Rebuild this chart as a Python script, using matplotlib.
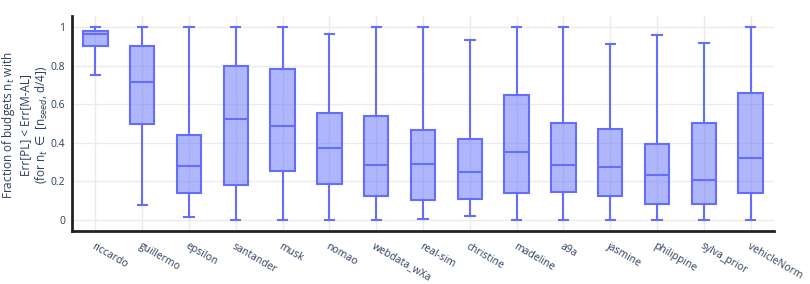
import matplotlib
matplotlib.use("Agg")
import matplotlib.pyplot as plt

datasets = ["riccardo", "guillermo", "epsilon", "santander", "musk", "nomao",
            "webdata_wXa", "real-sim", "christine", "madeline", "a9a", "jasmine",
            "philippine", "sylva_prior", "vehicleNorm"]
whisker_low = [0.75, 0.08, 0.014, 0.0, 0.0, 0.0, 0.0, 0.007, 0.021, 0.0, 0.0, 0.0, 0.0, 0.0, 0.0]
q1 = [0.90, 0.50, 0.141, 0.181, 0.256, 0.187, 0.126, 0.105, 0.107, 0.138, 0.143, 0.123, 0.083, 0.085, 0.138]
median = [0.965, 0.717, 0.281, 0.523, 0.489, 0.371, 0.287, 0.290, 0.249, 0.354, 0.287, 0.275, 0.231, 0.209, 0.320]
q3 = [0.98, 0.90, 0.439, 0.80, 0.784, 0.554, 0.537, 0.465, 0.420, 0.646, 0.501, 0.472, 0.392, 0.501, 0.660]
whisker_high = [1.0, 1.0, 1.0, 1.0, 1.0, 0.965, 1.0, 1.0, 0.934, 1.0, 1.0, 0.912, 0.960, 0.919, 1.0]
yticks = [0, 0.2, 0.4, 0.6, 0.8, 1]
ytick_labels = ["0", "0.2", "0.4", "0.6", "0.8", "1"]

plt.rcParams['font.family'] = ['Open Sans', 'DejaVu Sans']
line_col = '#636efa'
text_col = '#2a3f5f'

stats = []
for i, name in enumerate(datasets):
    stats.append({"label": name, "whislo": whisker_low[i], "q1": q1[i], "med": median[i],
                  "q3": q3[i], "whishi": whisker_high[i], "fliers": []})

fig = plt.figure(figsize=(8.1, 2.84), dpi=100)
ax = fig.add_axes([0.0889, 0.1866, 0.8667, 0.757])

ax.bxp(stats, positions=range(len(datasets)), widths=0.52, patch_artist=True,
       showfliers=False,
       boxprops=dict(facecolor=(99/255, 110/255, 250/255, 0.5), edgecolor=line_col, linewidth=1.5),
       medianprops=dict(color=line_col, linewidth=1.5),
       whiskerprops=dict(color=line_col, linewidth=1.5),
       capprops=dict(color=line_col, linewidth=1.5),
       capwidths=0.2, zorder=3)

ax.set_xlim(-0.5, 14.5)
ax.set_ylim(-0.057, 1.057)
ax.set_yticks(yticks)
ax.set_yticklabels(ytick_labels)
ax.set_xticks(range(len(datasets)))
ax.set_xticklabels(datasets, rotation=-30, ha='left', rotation_mode='anchor')

ax.grid(True, color='#ebebeb', linewidth=1, zorder=0)
ax.set_axisbelow(True)
for s in ['top', 'right']:
    ax.spines[s].set_visible(False)
for s in ['left', 'bottom']:
    ax.spines[s].set_color('#222222')
    ax.spines[s].set_linewidth(2)
ax.tick_params(axis='both', length=0, labelsize=7.5, labelcolor=text_col)
ax.tick_params(axis='y', pad=5)
ax.tick_params(axis='x', pad=7)

# y title placed by hand so the first line is not cut at the left edge
fig.text(25 / 810, 1 - 125 / 284,
         "Fraction of budgets n$_t$ with\nErr[PL] < Err[M-AL]\n(for n$_t$ $\\in$ [n$_{seed}$, d/4])",
         rotation=90, ha='center', va='center', multialignment='center',
         fontsize=8.5, color=text_col, linespacing=1.15)

fig.savefig("out.png", dpi=100)
